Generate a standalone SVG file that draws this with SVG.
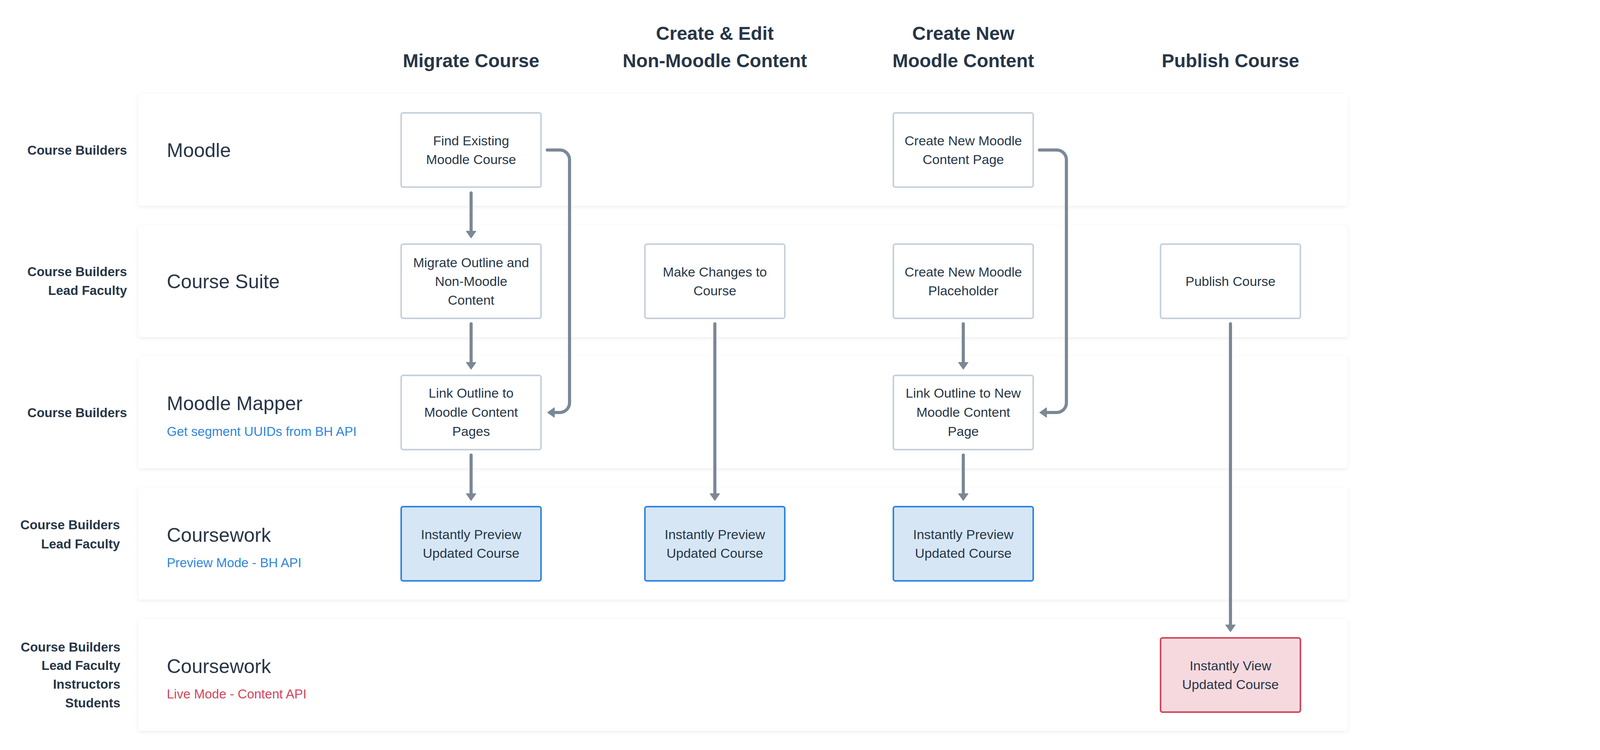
<svg xmlns="http://www.w3.org/2000/svg" width="6258" height="1920" viewBox="0 0 6258 1920">
<style>
text{font-family:"Liberation Sans",Arial,sans-serif;fill:#273647}
.hdr{font-size:48px;font-weight:bold;text-anchor:middle}
.role{font-size:33px;font-weight:bold;text-anchor:end}
.lane-title{font-size:50px}
.sub{font-size:33px}
.blue{fill:#2e86de}
.red{fill:#d3455b}
.lane{fill:#ffffff;filter:url(#sh)}
.box{fill:#ffffff;stroke:#c5d1db;stroke-width:4}
.box.prev{fill:#d6e6f5;stroke:#2e86de}
.box.live{fill:#f6d9de;stroke:#d3455b}
.bt{font-size:34px;text-anchor:middle}
.conn{fill:none;stroke:#7b8896;stroke-width:8;stroke-linecap:round;stroke-linejoin:round}
.thin{stroke-width:7}
.ptitle{font-size:34px}
.wk{fill:#ffffff;stroke:#c5d1db;stroke-width:4}
</style>
<defs>
<filter id="sh" x="-5%" y="-10%" width="110%" height="125%">
<feDropShadow dx="0" dy="3" stdDeviation="5" flood-color="#000" flood-opacity="0.07"/>
</filter>
<marker id="ah" viewBox="0 0 19 28" refX="1" refY="14" markerWidth="19" markerHeight="28" markerUnits="userSpaceOnUse" orient="auto">
<path d="M1,2 L18,14 L1,26 Z" fill="#7b8896" stroke="#7b8896" stroke-width="2" stroke-linejoin="round"/>
</marker>
</defs>
<rect width="6258" height="1920" fill="#ffffff"/>

<g id="headers">
<text class="hdr" x="1206" y="172">Migrate Course</text>
<text class="hdr" x="1830" y="102">Create &amp; Edit</text>
<text class="hdr" x="1830" y="172">Non-Moodle Content</text>
<text class="hdr" x="2466" y="102">Create New</text>
<text class="hdr" x="2466" y="172">Moodle Content</text>
<text class="hdr" x="3150" y="172">Publish Course</text>
</g>

<g id="lane-moodle">
<rect class="lane" x="354" y="240" width="3096" height="287" rx="6"/>
<text class="role" x="325" y="396">Course Builders</text>
<text class="lane-title" x="427" y="402">Moodle</text>
</g>
<g id="lane-course-suite">
<rect class="lane" x="354" y="576" width="3096" height="287" rx="6"/>
<text class="role" x="325" y="707">Course Builders</text>
<text class="role" x="325" y="755">Lead Faculty</text>
<text class="lane-title" x="427" y="738">Course Suite</text>
</g>
<g id="lane-moodle-mapper">
<rect class="lane" x="354" y="912" width="3096" height="287" rx="6"/>
<text class="role" x="325" y="1068">Course Builders</text>
<text class="lane-title" x="427" y="1050">Moodle Mapper</text>
<text class="sub blue" x="427" y="1116">Get segment UUIDs from BH API</text>
</g>
<g id="lane-coursework-preview">
<rect class="lane" x="354" y="1248" width="3096" height="287" rx="6"/>
<text class="role" x="307" y="1355">Course Builders</text>
<text class="role" x="307" y="1404">Lead Faculty</text>
<text class="lane-title" x="427" y="1387">Coursework</text>
<text class="sub blue" x="427" y="1452">Preview Mode - BH API</text>
</g>
<g id="lane-coursework-live">
<rect class="lane" x="354" y="1584" width="3096" height="287" rx="6"/>
<text class="role" x="308" y="1668">Course Builders</text>
<text class="role" x="308" y="1715">Lead Faculty</text>
<text class="role" x="308" y="1763">Instructors</text>
<text class="role" x="308" y="1811">Students</text>
<text class="lane-title" x="427" y="1723">Coursework</text>
<text class="sub red" x="427" y="1788">Live Mode - Content API</text>
</g>

<g id="n-find-existing">
<rect class="box" x="1027" y="289" width="358" height="190" rx="5"/>
<text class="bt" x="1206" y="372">Find Existing</text>
<text class="bt" x="1206" y="420">Moodle Course</text>
</g>
<g id="n-create-new-page">
<rect class="box" x="2287" y="289" width="358" height="190" rx="5"/>
<text class="bt" x="2466" y="372">Create New Moodle</text>
<text class="bt" x="2466" y="420">Content Page</text>
</g>
<g id="n-migrate-outline">
<rect class="box" x="1027" y="625" width="358" height="190" rx="5"/>
<text class="bt" x="1206" y="684">Migrate Outline and</text>
<text class="bt" x="1206" y="732">Non-Moodle</text>
<text class="bt" x="1206" y="780">Content</text>
</g>
<g id="n-make-changes">
<rect class="box" x="1651" y="625" width="358" height="190" rx="5"/>
<text class="bt" x="1830" y="708">Make Changes to</text>
<text class="bt" x="1830" y="756">Course</text>
</g>
<g id="n-create-placeholder">
<rect class="box" x="2287" y="625" width="358" height="190" rx="5"/>
<text class="bt" x="2466" y="708">Create New Moodle</text>
<text class="bt" x="2466" y="756">Placeholder</text>
</g>
<g id="n-publish">
<rect class="box" x="2971" y="625" width="358" height="190" rx="5"/>
<text class="bt" x="3150" y="732">Publish Course</text>
</g>
<g id="n-link-outline">
<rect class="box" x="1027" y="961" width="358" height="190" rx="5"/>
<text class="bt" x="1206" y="1018">Link Outline to</text>
<text class="bt" x="1206" y="1067">Moodle Content</text>
<text class="bt" x="1206" y="1116">Pages</text>
</g>
<g id="n-link-outline-new">
<rect class="box" x="2287" y="961" width="358" height="190" rx="5"/>
<text class="bt" x="2466" y="1018">Link Outline to New</text>
<text class="bt" x="2466" y="1067">Moodle Content</text>
<text class="bt" x="2466" y="1116">Page</text>
</g>
<g id="n-preview-1">
<rect class="box prev" x="1027" y="1297" width="358" height="190" rx="5"/>
<text class="bt" x="1206" y="1380">Instantly Preview</text>
<text class="bt" x="1206" y="1428">Updated Course</text>
</g>
<g id="n-preview-2">
<rect class="box prev" x="1651" y="1297" width="358" height="190" rx="5"/>
<text class="bt" x="1830" y="1380">Instantly Preview</text>
<text class="bt" x="1830" y="1428">Updated Course</text>
</g>
<g id="n-preview-3">
<rect class="box prev" x="2287" y="1297" width="358" height="190" rx="5"/>
<text class="bt" x="2466" y="1380">Instantly Preview</text>
<text class="bt" x="2466" y="1428">Updated Course</text>
</g>
<g id="n-live">
<rect class="box live" x="2971" y="1633" width="358" height="190" rx="5"/>
<text class="bt" x="3150" y="1716">Instantly View</text>
<text class="bt" x="3150" y="1764">Updated Course</text>
</g>

<g id="connectors">
<path class="conn" d="M1206,494 V592" marker-end="url(#ah)"/>
<path class="conn" d="M1206,829 V928" marker-end="url(#ah)"/>
<path class="conn" d="M1206,1165 V1264" marker-end="url(#ah)"/>
<path class="conn" d="M1830,829 V1264" marker-end="url(#ah)"/>
<path class="conn" d="M2466,829 V928" marker-end="url(#ah)"/>
<path class="conn" d="M2466,1165 V1264" marker-end="url(#ah)"/>
<path class="conn" d="M3150,829 V1600" marker-end="url(#ah)"/>
<path class="conn" d="M1401,384 H1433 A25,25 0 0 1 1458,409 V1031 A25,25 0 0 1 1433,1056 H1419" marker-end="url(#ah)"/>
<path class="conn" d="M2661,384 H2705 A25,25 0 0 1 2730,409 V1031 A25,25 0 0 1 2705,1056 H2679" marker-end="url(#ah)"/>
<path class="conn thin" d="M4620,404 H5165"/>
<path class="conn thin" d="M5308,404 H5363" marker-end="url(#ah)"/>
</g>

<g id="course-suite-panel">
<text class="ptitle" x="4267" y="203">Course Suite</text>
<rect class="lane" x="4266" y="240" width="816" height="600" rx="6"/>
<text x="4339" y="348" font-size="33">Course Name</text>
<text class="blue" x="4339" y="414" font-size="29">Coursework Preview</text>
<text x="4339" y="479" font-size="28" font-weight="bold">Coursework</text>
<text x="4525" y="479" font-size="28">Files</text>
<text x="4609" y="479" font-size="28">Reports</text>
<text x="4734" y="479" font-size="28">To-Do List</text>
<rect class="wk" x="4339" y="506" width="670" height="117" rx="5"/>
<text x="4674" y="576" font-size="32" text-anchor="middle">Week 1</text>
<rect class="wk" x="4339" y="649" width="670" height="117" rx="5"/>
<text x="4674" y="720" font-size="32" text-anchor="middle">Week 2</text>
<text x="4673" y="803" font-size="28" text-anchor="middle">...</text>
</g>

<g id="new-tab-label">
<text x="5173" y="414" font-size="32">New Tab</text>
</g>

<g id="online-campus-panel">
<text class="ptitle" x="5394" y="203">Online Campus</text>
<rect class="lane" x="5394" y="240" width="816" height="600" rx="6"/>
<text x="5416" y="294" font-size="28">Course Name</text>
<text x="5684" y="294" font-size="28" font-weight="bold">Preview</text>
<text x="5826" y="294" font-size="28">Coursework</text>
<text x="6026" y="294" font-size="28">Grades</text>
<text x="6145" y="294" font-size="28">...</text>
<rect class="wk" x="5564" y="338" width="644" height="501" rx="5"/>
<text x="5884" y="600" font-size="32" text-anchor="middle">Week 1</text>
<text x="5416" y="394" font-size="27">Week 1</text>
<text x="5416" y="454" font-size="27">Week 2</text>
<text x="5416" y="514" font-size="27">Week 3</text>
<text x="5416" y="582" font-size="27">Week 4</text>
<text x="5458" y="622" font-size="27" text-anchor="middle">...</text>
</g>
</svg>
